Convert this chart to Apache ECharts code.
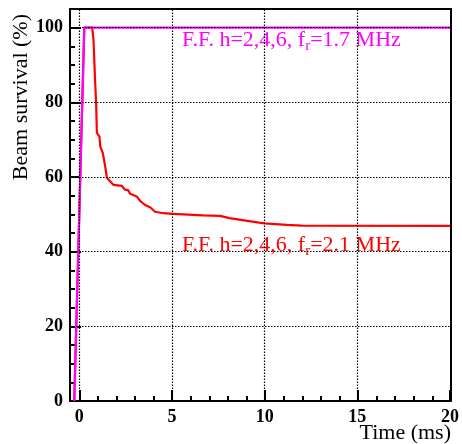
<!DOCTYPE html>
<html>
<head>
<meta charset="utf-8">
<script src="https://cdn.jsdelivr.net/npm/echarts@6/dist/echarts.min.js"></script>
<style>html,body{margin:0;padding:0;background:#fff}#c{width:462px;height:444px}</style>
</head>
<body>
<div id="c"></div>
<script>
var xMajorTicks = [0, 5, 10, 15, 20];
var xMinorTicks = [1, 2, 3, 4, 6, 7, 8, 9, 11, 12, 13, 14, 16, 17, 18, 19];
var yMajorTicks = [0, 20, 40, 60, 80, 100];
var yMinorTicks = [5, 10, 15, 25, 30, 35, 45, 50, 55, 65, 70, 75, 85, 90, 95];
var gridX = [0, 5, 10, 15];
var gridY = [20, 40, 60, 80, 100];

var redCurve = [[-0.27,0],[0.27,100],[0.7,100],[0.77,96.5],[0.86,85],[0.91,79.8],[0.95,71.8],[1.09,70.8],[1.13,68.2],[1.27,66.4],[1.40,62.8],[1.49,59.8],[1.67,58.8],[1.84,57.9],[2.3,57.6],[2.47,56.6],[2.65,56.4],[2.74,55.5],[3.1,54.8],[3.28,53.6],[3.55,52.5],[3.82,51.9],[4.09,50.7],[4.53,50.3],[5.07,50.1],[6.68,49.7],[7.6,49.6],[8.1,49.0],[9.7,47.8],[10,47.6],[11.2,47.2],[12,47.0],[20,46.9]];
var magentaCurve = [[-0.27,0],[0.27,100],[20,100]];

var serif = '"Liberation Serif","Times New Roman",serif';
var chart = echarts.init(document.getElementById('c'), null, {renderer:'canvas'});
var tickLabel = {fontFamily: serif, fontWeight: 'bold', fontSize: 18, color: '#000'};
var markData = gridX.map(function(v){return {xAxis: v};}).concat(gridY.map(function(v){return {yAxis: v};}));
var gridRect = {left: 70, right: 11, top: 9, bottom: 43};
var frameLine = {show: true, onZero: false, lineStyle: {color: '#000', width: 2}};

chart.setOption({
  animation: false,
  grid: [
    Object.assign({show: false}, gridRect),
    Object.assign({show: false}, gridRect)
  ],
  xAxis: [
    {type: 'value', gridIndex: 0, min: -0.5, max: 20, position: 'bottom',
     axisLine: frameLine,
     axisTick: {show: true, inside: true, length: 11, customValues: xMajorTicks, lineStyle: {color: '#000', width: 2}},
     axisLabel: Object.assign({customValues: xMajorTicks, margin: 7}, tickLabel),
     splitLine: {show: false}},
    {type: 'value', gridIndex: 1, min: -0.5, max: 20, position: 'bottom',
     axisLine: {show: false, onZero: false},
     axisTick: {show: true, inside: true, length: 5, customValues: xMinorTicks, lineStyle: {color: '#000', width: 2}},
     axisLabel: {show: false}, splitLine: {show: false}},
    {type: 'value', gridIndex: 1, min: -0.5, max: 20, position: 'top',
     axisLine: frameLine, axisTick: {show: false}, axisLabel: {show: false}, splitLine: {show: false}}
  ],
  yAxis: [
    {type: 'value', gridIndex: 0, min: 0, max: 105, position: 'left',
     axisLine: frameLine,
     axisTick: {show: true, inside: true, length: 11, customValues: yMajorTicks, lineStyle: {color: '#000', width: 2}},
     axisLabel: Object.assign({customValues: yMajorTicks, margin: 7}, tickLabel),
     splitLine: {show: false}},
    {type: 'value', gridIndex: 1, min: 0, max: 105, position: 'left',
     axisLine: {show: false, onZero: false},
     axisTick: {show: true, inside: true, length: 5, customValues: yMinorTicks, lineStyle: {color: '#000', width: 2}},
     axisLabel: {show: false}, splitLine: {show: false}},
    {type: 'value', gridIndex: 1, min: 0, max: 105, position: 'right',
     axisLine: frameLine, axisTick: {show: false}, axisLabel: {show: false}, splitLine: {show: false}}
  ],
  series: [
    {type: 'line', data: [], xAxisIndex: 0, yAxisIndex: 0, z: 1,
     markLine: {silent: true, symbol: 'none', label: {show: false},
       lineStyle: {type: [1.5, 1.5], color: '#000', width: 1.2}, data: markData}},
    {type: 'line', data: [], xAxisIndex: 1, yAxisIndex: 1},
    {type: 'line', data: [], xAxisIndex: 2, yAxisIndex: 2},
    {type: 'line', data: redCurve, xAxisIndex: 0, yAxisIndex: 0, showSymbol: false, symbol: 'none', z: 3,
     lineStyle: {color: '#ff0000', width: 2.2}},
    {type: 'line', data: magentaCurve, xAxisIndex: 0, yAxisIndex: 0, showSymbol: false, symbol: 'none', z: 4,
     lineStyle: {color: '#ff00ff', width: 2.2}}
  ],
  graphic: [
    {type: 'text', x: 21, y: 14, rotation: Math.PI/2,
     style: {text: 'Beam survival (%)', font: '22px ' + serif, fill: '#000', align: 'right', verticalAlign: 'middle'}},
    {type: 'text', x: 451, y: 433, style: {text: 'Time (ms)', font: '22px ' + serif, fill: '#000', align: 'right', verticalAlign: 'middle'}},
    {type: 'text', x: 182, y: 54,
     style: {text: '{a|F.F. h=2,4,6, f}{s|r}{a|=1.7 MHz}', fill: '#ff00ff', align: 'left', verticalAlign: 'bottom',
       rich: {a: {fontFamily: serif, fontSize: 22, color: '#ff00ff'}, s: {fontFamily: serif, fontSize: 15, color: '#ff00ff', padding: [12, 0, 0, 0]}}}},
    {type: 'text', x: 182, y: 259,
     style: {text: '{a|F.F. h=2,4,6, f}{s|r}{a|=2.1 MHz}', fill: '#ff0000', align: 'left', verticalAlign: 'bottom',
       rich: {a: {fontFamily: serif, fontSize: 22, color: '#ff0000'}, s: {fontFamily: serif, fontSize: 15, color: '#ff0000', padding: [12, 0, 0, 0]}}}}
  ]
});
</script>
</body>
</html>
